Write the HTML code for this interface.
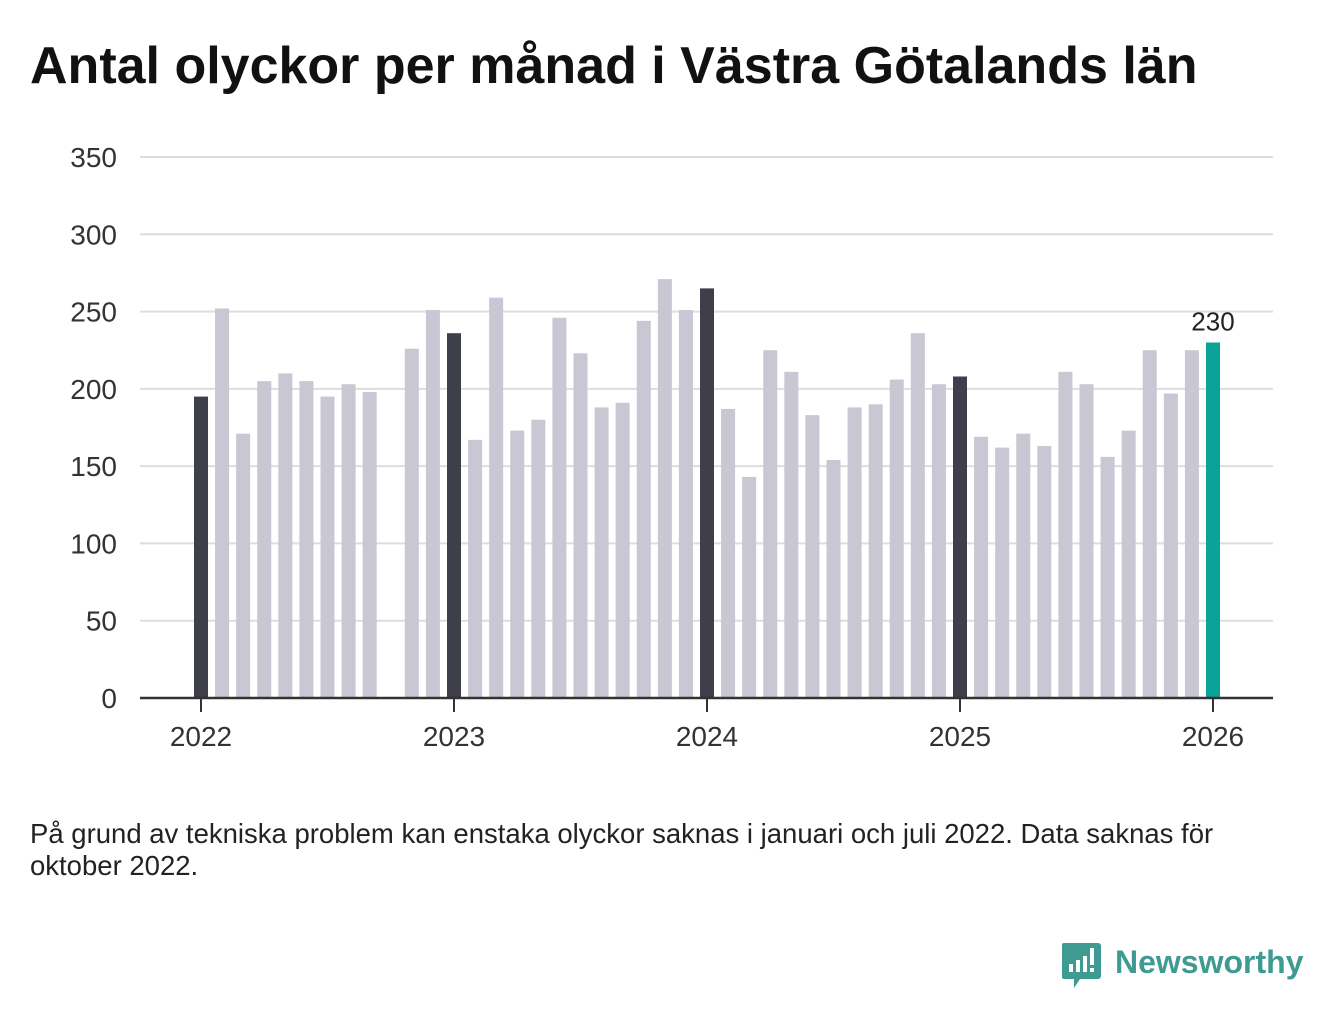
<!DOCTYPE html>
<html><head><meta charset="utf-8"><style>
body{margin:0;width:1340px;height:1020px;background:#fff;font-family:"Liberation Sans","DejaVu Sans",sans-serif;overflow:hidden;position:relative}
#title{position:absolute;left:30px;top:36px;font-size:52px;font-weight:bold;color:#111;margin:0;letter-spacing:0px;white-space:nowrap}
#note{position:absolute;left:30px;top:818px;font-size:27.5px;color:#222;line-height:32px;width:1300px;white-space:nowrap}
#logo{position:absolute;left:1062px;top:940px}
</style></head><body>
<h1 id="title">Antal olyckor per månad i Västra Götalands län</h1>
<svg id="chart" width="1340" height="800" style="position:absolute;left:0;top:0"></svg>
<div id="note">På grund av tekniska problem kan enstaka olyckor saknas i januari och juli 2022. Data saknas för<br>oktober 2022.</div>
<svg id="logo" width="260" height="52">
<path d="M2 3h34a3 3 0 0 1 3 3v30a3 3 0 0 1-3 3H18l-6 9v-9H2a2 2 0 0 1-2-2V5a2 2 0 0 1 2-2z" fill="#3f9a92"/>
<rect x="7" y="24" width="4" height="8" fill="#fff"/><rect x="14" y="20" width="4" height="12" fill="#fff"/><rect x="21" y="16" width="4" height="16" fill="#fff"/><rect x="28" y="8" width="4" height="17" fill="#fff"/><rect x="28" y="28" width="4" height="4" fill="#fff"/>
<text x="53" y="33" font-size="32" font-weight="bold" fill="#3f9a92" font-family="Liberation Sans, sans-serif">Newsworthy</text>
</svg>
<script>
const months=["2022-01","2022-02","2022-03","2022-04","2022-05","2022-06","2022-07","2022-08","2022-09","2022-10","2022-11","2022-12","2023-01","2023-02","2023-03","2023-04","2023-05","2023-06","2023-07","2023-08","2023-09","2023-10","2023-11","2023-12","2024-01","2024-02","2024-03","2024-04","2024-05","2024-06","2024-07","2024-08","2024-09","2024-10","2024-11","2024-12","2025-01","2025-02","2025-03","2025-04","2025-05","2025-06","2025-07","2025-08","2025-09","2025-10","2025-11","2025-12","2026-01"];
const values=[195,252,171,205,210,205,195,203,198,null,226,251,236,167,259,173,180,246,223,188,191,244,271,251,265,187,143,225,211,183,154,188,190,206,236,203,208,169,162,171,163,211,203,156,173,225,197,225,230];
const yTicks=[0,50,100,150,200,250,300,350];
const xTicks=["2022","2023","2024","2025","2026"];
const ns="http://www.w3.org/2000/svg",svg=document.getElementById('chart');
const y=v=>698-v*(541/350), x=i=>201+i*(1012/48);
function mk(t,a,p){const e=document.createElementNS(ns,t);for(const k in a)e.setAttribute(k,a[k]);(p||svg).appendChild(e);return e;}
yTicks.forEach(t=>{
 if(t>0){const l=mk('line',{x1:140,x2:1273,y1:y(t),y2:y(t),stroke:'#ddd','stroke-width':2});
 
 }
 const tx=mk('text',{x:117,y:y(t)+10,'text-anchor':'end','font-size':28,fill:'#333'});tx.textContent=t;
 
 
});
values.forEach((v,i)=>{
 if(v==null)return;
 const last=i===values.length-1, jan=months[i].endsWith('-01');
 const r=mk('rect',{x:x(i)-7,y:y(v),width:14,height:698-y(v),fill:last?'#0aa398':jan?'#3f3e4b':'#c8c7d3'});
 
 
 if(last){const t=mk('text',{x:x(i),y:y(v)-12,'text-anchor':'middle','font-size':26,fill:'#222'});t.textContent=v;
 
 }
});
const ax=mk('line',{x1:140,x2:1273,y1:698,y2:698,stroke:'#333','stroke-width':2.5});


xTicks.forEach((t,k)=>{
 const xi=x(k*12);
 mk('line',{x1:xi,x2:xi,y1:698,y2:712,stroke:'#333','stroke-width':2});
 const tx=mk('text',{x:xi,y:746,'text-anchor':'middle','font-size':28,fill:'#333'});tx.textContent=t;
 
 
});
</script>
</body></html>
